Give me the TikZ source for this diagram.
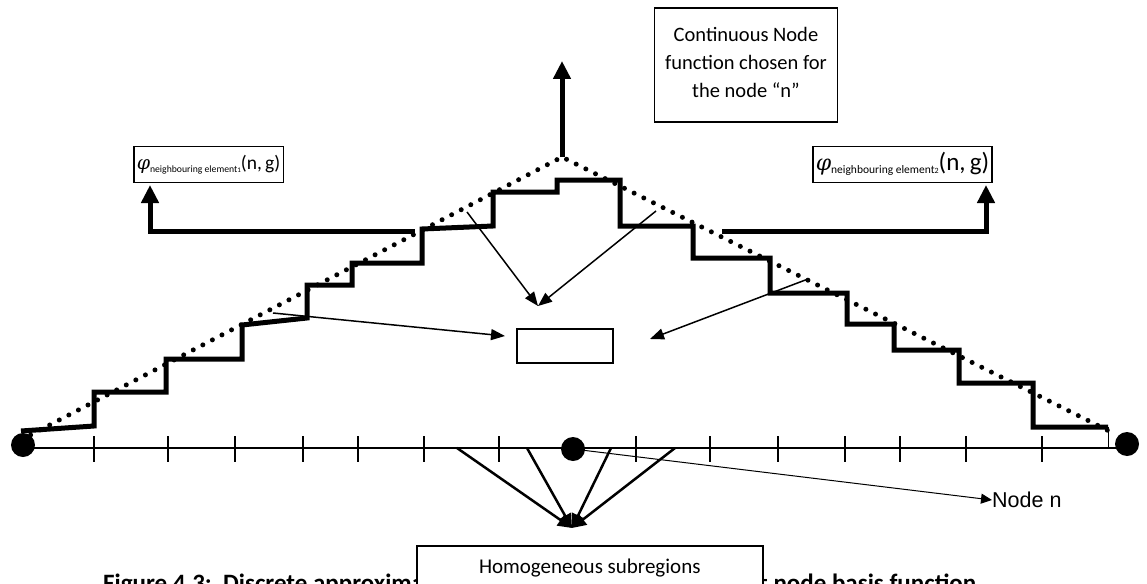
\documentclass[tikz,border=0pt]{standalone}
\usepackage{fontspec}
\setmainfont{Carlito}
\newfontfamily\arialfont{Liberation Sans}
\newfontfamily\phifont{DejaVu Serif}
\usetikzlibrary{arrows.meta}
\newcommand{\phiLab}[5]{{\fontsize{#2}{#2}\selectfont\phifont\itshape φ}\raisebox{-3pt}{\fontsize{#3}{#3}\selectfont neighbouring element{\fontsize{#5}{#5}\selectfont #1}}{\fontsize{#4}{#4}\selectfont(n,\,g)}}
\begin{document}
\begin{tikzpicture}[x=1pt,y=-1pt,
  stair/.style={line width=5pt},
  dotline/.style={line width=5pt,line cap=round,dash pattern=on 0pt off 10.8pt},
  bigarrow/.style={line width=5pt,-{Triangle[length=18pt,width=17pt]}},
  thinarrow/.style={line width=1.5pt,-{Triangle[length=14pt,width=11pt]}},
  fanarrow/.style={line width=2.5pt,-{Triangle[length=14pt,width=13pt]}},
  nodearrow/.style={line width=1pt,-{Triangle[length=11pt,width=10pt]}},
  box/.style={draw,line width=1.5pt,fill=white},
  tickline/.style={line width=2pt},
  axisline/.style={line width=1.5pt},
  bigdot/.style={circle,fill=black,minimum size=24pt,inner sep=0pt}]
\useasboundingbox (0,0) rectangle (1147,583);
\clip (0,0) rectangle (1147,583);
% axis
\coordinate (axL) at (20,448);
\coordinate (axR) at (1127,448);
\draw[axisline] (axL) -- (axR);
\foreach \x in {94,168,235,303,358,424,499,636,710,778,845,900,966,1042}
  \draw[tickline] (\x,436) -- (\x,462);
\node[bigdot] (dl) at (23,445) {};
\node[bigdot] (dc) at (573,449) {};
\node[bigdot] (dr) at (1127,444) {};
% staircase
\draw[stair] (21,431) -- (94,426) -- (94,392) -- (166,392) -- (166,359) -- (242,359)
  -- (242,325) -- (307,318) -- (307,285) -- (352,285) -- (352,263) -- (422,263)
  -- (422,229) -- (493,226) -- (493,192) -- (557,192) -- (557,180) -- (620,180)
  -- (620,226) -- (693,226) -- (693,258) -- (770,258) -- (770,293) -- (847,293)
  -- (847,324) -- (894,324) -- (894,350) -- (959,350) -- (959,383) -- (1033,383)
  -- (1033,427) -- (1108,427);
\draw[line width=1pt] (1108,427) -- (1108,448);
% dotted continuous function
\coordinate (apex) at (562,157);
\draw[dotline] (21,440) -- (apex) -- (1109,431);
% top arrow and box
\coordinate (toptip) at (562,61);
\draw[bigarrow] (apex) -- (toptip);
\node[box,minimum width=183pt,minimum height=114pt,align=center,inner sep=0pt,
  font=\fontsize{20.5}{28}\selectfont] (top) at (746,65)
  {Continuous Node\\function chosen for\\the node \textquotedblleft n\textquotedblright\rule[-6pt]{0pt}{1pt}};
% phi labels
\node[box,anchor=south west,inner xsep=3pt,inner ysep=1pt,minimum height=36pt] (phiL) at (133,183) {\phiLab{1}{19}{9.7}{19.5}{7}};
\node[box,anchor=south west,inner xsep=3pt,inner ysep=1pt,minimum height=36pt] (phiR) at (812,183) {\phiLab{2}{22}{11.5}{25}{8}};
\coordinate (lc) at (415,231);
\coordinate (lt) at (150,185);
\draw[bigarrow] (lc) -| (lt);
\coordinate (rc) at (722,231);
\coordinate (rt) at (986,185);
\draw[bigarrow] (rc) -| (rt);
% centre box and arrows
\node[box,minimum width=96pt,minimum height=34pt] (cb) at (565,346) {};
\coordinate (tgt) at (538,306);
\coordinate (s1) at (467,212);
\coordinate (s2) at (656,211);
\coordinate (s3) at (273,313);
\coordinate (t3) at (505,336);
\coordinate (s4) at (808,279);
\coordinate (t4) at (650,339);
\draw[thinarrow] (s1) -- (tgt);
\draw[thinarrow] (s2) -- (tgt);
\draw[thinarrow] (s3) -- (t3);
\draw[thinarrow] (s4) -- (t4);
% fan to subregions
\coordinate (fan) at (572,528);
\foreach \x in {457,527,611,675} \draw[fanarrow] (\x,448) -- (fan);
% node n
\node[anchor=west,inner sep=0pt,font=\arialfont\fontsize{21.5}{23}\selectfont] (nn) at (992,500) {Node n};
\draw[nodearrow] (dc.center) -- (nn.west);
% caption
\node[anchor=base west,inner sep=0pt,font=\fontsize{25}{28}\selectfont\bfseries] (capL) at (103,591) {Figure 4.3:\ \ Discrete approximat};
\node[anchor=base west,inner sep=0pt,font=\fontsize{25}{28}\selectfont\bfseries] (capR) at (759,591) {t node basis function};
\node[box,anchor=north west,minimum width=346pt,minimum height=44pt,inner sep=0pt,
  font=\fontsize{21}{24}\selectfont] (hom) at (416,545) {Homogeneous subregions};
\end{tikzpicture}
\end{document}
